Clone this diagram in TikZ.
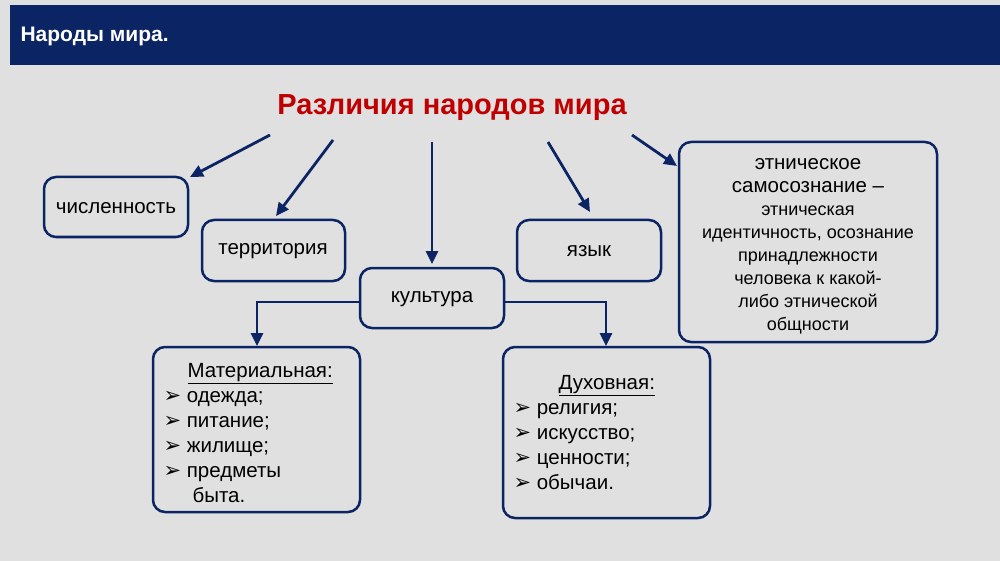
\documentclass[tikz,border=0pt]{standalone}
\usepackage{fontspec}
\setmainfont{Liberation Sans}
\newfontfamily\symf{DejaVu Sans}
\usetikzlibrary{arrows.meta}
\definecolor{navy}{HTML}{0B2464}
\definecolor{bg}{HTML}{E0E0E0}
\definecolor{ttl}{HTML}{C00000}
\newcommand{\bul}{{\symf\bfseries\fontsize{21}{19}\selectfont ➢}\ }
\begin{document}
\begin{tikzpicture}[x=1pt,y=-1pt,
 box/.style={draw=navy,line width=2.5pt,rounded corners=12pt,fill=bg},
 lab/.style={font=\fontsize{20.5}{24}\selectfont},
 arr/.style={draw=navy,line width=2.8pt,-{Triangle[length=13pt,width=12pt]}}]
\fill[bg] (0,0) rectangle (1000,561);
\fill[navy] (10,5) rectangle (1000,65);
\node[anchor=west,text=white,font=\bfseries\fontsize{21}{24}\selectfont] (h) at (17,36) {Народы мира.};
\node[text=ttl,font=\bfseries\fontsize{29}{33}\selectfont] (t) at (452,108) {Различия народов мира};
\path[box] (44,177) rectangle (188,237);
\node[lab] (a) at (116,208) {численность};
\path[box] (202,220) rectangle (345,281);
\node[lab] (b) at (273,251) {территория};
\path[box] (360,268) rectangle (504,328);
\node[lab] (c) at (432,299) {культура};
\path[box] (517,220) rectangle (661,281);
\node[lab] (d) at (589,251) {язык};
\path[box] (679,142) rectangle (937,342);
\node[align=center,anchor=north,font=\fontsize{18}{23}\selectfont] (e) at (808,155) {\fontsize{20.5}{23}\selectfont этническое\\\fontsize{20.5}{23}\selectfont самосознание –\\этническая\\идентичность, осознание\\принадлежности\\человека к какой-\\либо этнической\\общности};
\path[box] (153,347) rectangle (360,512);
\node[align=left,anchor=north west,font=\fontsize{20.5}{25}\selectfont] (m) at (160,360) {\hspace*{24pt}\underline{Материальная:}\\\bul одежда;\\\bul питание;\\\bul жилище;\\\bul предметы\\\hspace*{29pt}быта.};
\path[box] (503,347) rectangle (710,518);
\node[align=left,anchor=north west,font=\fontsize{20.5}{25}\selectfont] (s) at (510,372) {\hspace*{45pt}\underline{Духовная:}\\\bul религия;\\\bul искусство;\\\bul ценности;\\\bul обычаи.};
\coordinate (a1) at (270,135); \coordinate (a2) at (190,177);
\coordinate (b1) at (333,140); \coordinate (b2) at (276,216);
\coordinate (c1) at (432,142); \coordinate (c2) at (432,264);
\coordinate (d1) at (548,142); \coordinate (d2) at (590,212);
\coordinate (e1) at (632,135); \coordinate (e3) at (677,166);
\draw[arr] (a1) -- (a2);
\draw[arr] (b1) -- (b2);
\draw[arr] (c1) -- (c2);
\draw[arr] (d1) -- (d2);
\draw[arr] (e1) -- (e3);
\coordinate (l1) at (360,302); \coordinate (l2) at (257,346);
\coordinate (r1) at (504,302); \coordinate (r2) at (606,346);
\draw[arr] (l1) -| (l2);
\draw[arr] (r1) -| (r2);
\end{tikzpicture}
\end{document}
